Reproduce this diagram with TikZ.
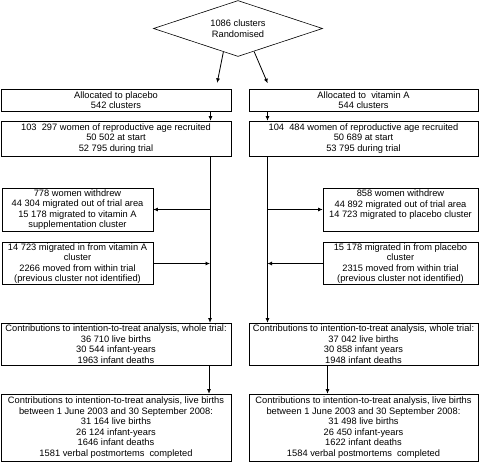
\documentclass[tikz,border=0pt]{standalone}
\usepackage{fontspec}
\setmainfont{Liberation Sans}
\usepackage{tikz}
\usetikzlibrary{shapes.geometric,arrows.meta}
\tikzset{box/.style={rectangle,draw,align=center,inner sep=1pt,font=\fontsize{9.3}{10.6}\selectfont}}
\tikzset{choice/.style={diamond,draw,aspect=3,inner sep=0pt,minimum width=169pt,minimum height=56pt,align=center,font=\fontsize{9.3}{10.6}\selectfont}}
\tikzset{pointer/.style={-{Latex[length=4.5pt,width=4pt]},line width=0.8pt}}

\begin{document}
\begin{tikzpicture}[x=1pt,y=-1pt,line width=0.6pt]
    \useasboundingbox (0,0) rectangle (480,463);
    \node[choice] (rand) at (238,28.5) {1086 clusters\\Randomised};
    \node[box,minimum width=230pt,minimum height=22pt] (placL) at (116,100) {Allocated to placebo\\542 clusters};
    \node[box,minimum width=229pt,minimum height=22pt] (vitaR) at (363.5,100) {Allocated to\ \ vitamin A\\544 clusters};
    \node[box,minimum width=230pt,minimum height=35pt] (womL) at (116,138.5) {103\ \ 297 women of reproductive age recruited\\50 502 at start\\52 795 during trial};
    \node[box,minimum width=229pt,minimum height=35pt] (womR) at (363.5,138.5) {104\ \ 484 women of reproductive age recruited\\50 689 at start\\53 795 during trial};
    \node[box,minimum width=151pt,minimum height=43pt] (outL) at (77.5,209.5) {778 women withdrew\\44 304 migrated out of trial area\\15 178 migrated to vitamin A\\supplementation cluster};
    \node[box,minimum width=155pt,minimum height=43pt] (outR) at (400.5,209.5) {\parbox[c][39pt][t]{152pt}{\centering 858 women withdrew\\44 892 migrated out of trial area\\14 723 migrated to placebo cluster}};
    \node[box,minimum width=151pt,minimum height=41pt] (inL) at (77.5,263.5) {14 723 migrated in from vitamin A\\cluster\\2266 moved from within trial\\(previous cluster not identified)};
    \node[box,minimum width=155pt,minimum height=41pt] (inR) at (400.5,263.5) {15 178 migrated in from placebo\\cluster\\2315 moved from within trial\\(previous cluster not identified)};
    \node[box,minimum width=230pt,minimum height=42pt] (ittL) at (116,344) {Contributions to intention-to-treat analysis, whole trial:\\36 710 live births\\30 544 infant-years\\1963 infant deaths};
    \node[box,minimum width=229pt,minimum height=42pt] (ittR) at (363.5,344) {Contributions to intention-to-treat analysis, whole trial:\\37 042 live births\\30 858 infant years\\1948 infant deaths};
    \node[box,minimum width=230pt,minimum height=67pt] (finL) at (116,427.5) {Contributions to intention-to-treat analysis, live births\\between 1 June 2003 and 30 September 2008:\\31 164 live births\\26 124 infant-years\\1646 infant deaths\\1581 verbal postmortems\ \ completed};
    \node[box,minimum width=229pt,minimum height=67pt] (finR) at (363.5,427.5) {Contributions to intention-to-treat analysis, live births\\between 1 June 2003 and 30 September 2008:\\31 498 live births\\26 450 infant-years\\1622 infant deaths\\1584 verbal postmortems\ \ completed};
    % randomisation
    \draw[pointer,shorten >=6pt] (rand.238) -- ([xshift=100pt]placL.north);
    \draw[pointer,shorten >=6pt] (rand.305) -- ([xshift=-93.5pt]vitaR.north);
    \draw[pointer] ([xshift=94.5pt]placL.south) -- ([xshift=94.5pt]womL.north);
    \draw[pointer] ([xshift=-96pt]vitaR.south) -- ([xshift=-96pt]womR.north);
    % trunks
    \coordinate (trunkL) at ([xshift=94pt]womL.south);
    \coordinate (trunkR) at ([xshift=-96pt]womR.south);
    \draw[pointer] (trunkL) -- (trunkL |- ittL.north);
    \draw[pointer] (trunkR) -- (trunkR |- ittR.north);
    \draw[pointer] (trunkL |- outL.east) -- (outL.east);
    \draw[pointer] (trunkR |- outR.west) -- (outR.west);
    \draw[pointer] (inL.east) -- (trunkL |- inL.east);
    \draw[pointer] (inR.west) -- (trunkR |- inR.west);
    \draw[pointer] ([xshift=93pt]ittL.south) -- ([xshift=93pt]finL.north);
    \draw[pointer] ([xshift=-36pt]ittR.south) -- ([xshift=-36pt]finR.north);
\end{tikzpicture}
\end{document}
